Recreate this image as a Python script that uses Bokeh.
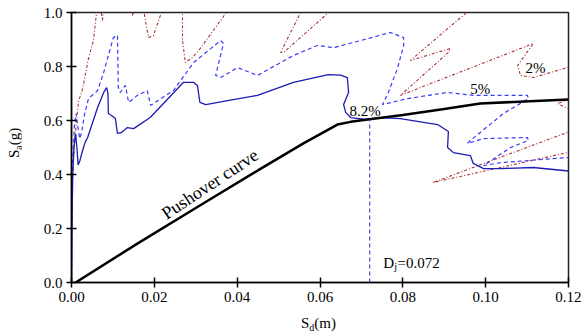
import numpy as np
from bokeh.plotting import figure
from bokeh.models import Range1d, FixedTicker, Label, NumeralTickFormatter, Div
from bokeh.layouts import row, column
from bokeh.embed import file_html
from bokeh.resources import INLINE

# ---- data ----
# demand spectrum, 8.2 % damping (solid blue)
sd_82 = [0, 0.0001, 0.0003, 0.0006, 0.0010, 0.0013, 0.0016, 0.0020, 0.0027, 0.0033, 0.0039,
         0.0063, 0.0078, 0.0085, 0.0088, 0.0089, 0.0100, 0.0106, 0.0111, 0.0120, 0.0135, 0.0150,
         0.0190, 0.0270, 0.0295, 0.0304, 0.0310, 0.0324, 0.0377, 0.0449, 0.0536, 0.0620,
         0.0650, 0.0666, 0.0669, 0.0657, 0.0662, 0.0674, 0.0710, 0.0746, 0.0794, 0.0884,
         0.0910, 0.0908, 0.0922, 0.0963, 0.0970, 0.0995, 0.1036, 0.1115, 0.1200]
sa_82 = [0, 0.20, 0.40, 0.50, 0.55, 0.50, 0.435, 0.45, 0.49, 0.52, 0.537,
         0.648, 0.705, 0.722, 0.70, 0.626, 0.615, 0.607, 0.552, 0.555, 0.574, 0.570,
         0.611, 0.741, 0.741, 0.730, 0.667, 0.659, 0.674, 0.693, 0.741, 0.770,
         0.768, 0.759, 0.704, 0.659, 0.630, 0.611, 0.604, 0.611, 0.607, 0.585,
         0.559, 0.500, 0.481, 0.470, 0.441, 0.422, 0.422, 0.426, 0.413]

# demand spectrum, 5 % damping (dashed blue)
sd_5 = [0, 0.0001, 0.0003, 0.0007, 0.0011, 0.0015, 0.0020, 0.0025, 0.0031, 0.0041, 0.0063,
        0.0077, 0.0101, 0.0111, 0.0113, 0.0118, 0.0130, 0.0138, 0.0159, 0.0183, 0.0191,
        0.0246, 0.0295, 0.0360, 0.0367, 0.0348, 0.0360, 0.0401, 0.0449, 0.0536, 0.0594,
        0.0633, 0.0698, 0.0770, 0.0802, 0.0802, 0.0787, 0.0765, 0.0751, 0.0811, 0.0908,
        0.0971, 0.1101, 0.1103, 0.1043, 0.0963, 0.0956, 0.0995, 0.1101, 0.1103, 0.1060,
        0.0995, 0.1036, 0.1200]
sa_5 = [0, 0.25, 0.45, 0.58, 0.626, 0.58, 0.533, 0.56, 0.619, 0.681, 0.711,
        0.774, 0.907, 0.915, 0.722, 0.704, 0.730, 0.667, 0.693, 0.711, 0.656,
        0.711, 0.815, 0.896, 0.885, 0.767, 0.759, 0.796, 0.767, 0.841, 0.878,
        0.870, 0.896, 0.926, 0.907, 0.878, 0.793, 0.704, 0.659, 0.681, 0.704,
        0.693, 0.693, 0.681, 0.626, 0.526, 0.515, 0.533, 0.537, 0.526, 0.500,
        0.433, 0.444, 0.463]

# demand spectrum, 2 % damping (dash-dot brown)
sd_2 = [0, 0.0001, 0.0003, 0.0007, 0.0010, 0.0017, 0.0022, 0.0027, 0.0039, 0.0046, 0.0053,
        0.0060, 0.0063, 0.0070, 0.0075, 0.0077, 0.0138, 0.0147, 0.0155, 0.0170, 0.0186,
        0.0198, 0.0227, 0.0263, 0.0268, 0.0268, 0.0275, 0.0292, 0.0311, 0.0372, 0.0384,
        0.0553, 0.0553, 0.0505, 0.0512, 0.0618, 0.0637, 0.0939, 0.0951, 0.0818, 0.0915,
        0.0910, 0.0794, 0.1115, 0.1077, 0.1084, 0.1115, 0.1197, 0.1229, 0.1229, 0.1173,
        0.1193, 0.1229, 0.1229, 0.1197, 0.0872, 0.1197, 0.1229]
sa_2 = [0, 0.20, 0.40, 0.52, 0.563, 0.674, 0.693, 0.719, 0.815, 0.859, 0.896,
        0.993, 1.026, 1.015, 0.970, 1.026, 1.044, 0.989, 1.026, 1.044, 0.907,
        0.915, 1.044, 1.063, 0.996, 0.896, 0.815, 0.833, 0.867, 0.996, 1.044,
        1.044, 1.000, 0.852, 0.852, 0.996, 1.044, 1.044, 0.996, 0.822, 0.867,
        0.852, 0.693, 0.885, 0.804, 0.767, 0.759, 0.796, 0.815, 0.693, 0.663,
        0.648, 0.630, 0.563, 0.556, 0.370, 0.481, 0.489]

# pushover (capacity) curve
push_sd = [0.001, 0.016, 0.031, 0.045, 0.056, 0.0642, 0.0674, 0.072, 0.080, 0.090, 0.0987, 0.120]
push_sa = [0.0, 0.145, 0.285, 0.415, 0.515, 0.585, 0.595, 0.605, 0.620, 0.643, 0.663, 0.678]

dj = 0.072
x_ticks = [0.00, 0.02, 0.04, 0.06, 0.08, 0.10, 0.12]
y_ticks = [0.0, 0.2, 0.4, 0.6, 0.8, 1.0]

FONT = "Liberation Serif"

p = figure(width=560, height=317, output_backend="svg", toolbar_location=None,
           x_range=Range1d(0, 0.12), y_range=Range1d(0, 1.0),
           min_border_left=50, min_border_right=13, min_border_top=12, min_border_bottom=35)
p.grid.visible = False
p.background_fill_color = "white"
p.border_fill_color = "white"
p.outline_line_color = "#222222"
p.outline_line_width = 1.5

for ax in (p.xaxis[0], p.yaxis[0]):
    ax.axis_line_color = "black"
    ax.axis_line_width = 1.5
    ax.major_tick_in = 5
    ax.major_tick_out = 5
    ax.major_tick_line_color = "black"
    ax.major_tick_line_width = 1.5
    ax.minor_tick_line_color = None
    ax.major_label_text_font = FONT
    ax.major_label_text_font_size = "15px"
    ax.major_label_text_color = "black"
p.xaxis.ticker = FixedTicker(ticks=x_ticks)
p.yaxis.ticker = FixedTicker(ticks=y_ticks)
p.xaxis.formatter = NumeralTickFormatter(format="0.00")
p.yaxis.formatter = NumeralTickFormatter(format="0.0")
p.xaxis.major_label_standoff = 4
p.yaxis.major_label_standoff = 4

p.line(sd_2, sa_2, line_color="#a83232", line_width=1.1, line_dash="3 2 1 2")
p.line(sd_5, sa_5, line_color="#3a3aff", line_width=1.2, line_dash="4 3")
p.line(sd_82, sa_82, line_color="#1c1cb4", line_width=1.3)
p.line(push_sd, push_sa, line_color="black", line_width=2.5)

dj_top = float(np.interp(dj, push_sd, push_sa))
p.segment(x0=[dj], y0=[0.0], x1=[dj], y1=[dj_top], line_color="#3c3cb8",
          line_width=1.1, line_dash="4 3")

def lab(x, y, t, size="15px", angle=0.0):
    p.add_layout(Label(x=x, y=y, text=t, text_font=FONT, text_font_size=size,
                       text_color="black", text_baseline="alphabetic", text_align="left",
                       angle=angle))

lab(0.0671, 0.637, "8.2%")
lab(0.0963, 0.715, "5%")
lab(0.1096, 0.793, "2%")
lab(0.0222, 0.250, "Pushover  curve", size="18px", angle=0.588)

# D_j = 0.072
lab(0.0753, 0.074, "D")
lab(0.0779, 0.060, "j", size="10px")
lab(0.0787, 0.074, "=0.072")

# axis titles with subscripts (HTML text)
TXT = "font-family:'Liberation Serif',serif;font-size:15px;line-height:17px;color:#000;white-space:nowrap;"
SUB = "font-size:10px;line-height:0;vertical-align:-3px;"

ylab = Div(width=21, height=317, margin=0,
           text=('<div style="position:relative;width:21px;height:317px;">'
                 f'<span style="position:absolute;left:6px;top:158px;transform-origin:0 0;'
                 f'transform:rotate(-90deg);{TXT}">S<span style="{SUB}">a</span>(g)</span></div>'))
xlab = Div(width=560, height=18, margin=0,
           text=('<div style="position:relative;width:560px;height:18px;">'
                 f'<span style="position:absolute;left:280px;top:-2px;{TXT}">'
                 f'S<span style="{SUB}">d</span>(m)</span></div>'))

layout = row(ylab, column(p, xlab, spacing=0), spacing=0)

open("out.html", "w").write(file_html(layout, INLINE))
